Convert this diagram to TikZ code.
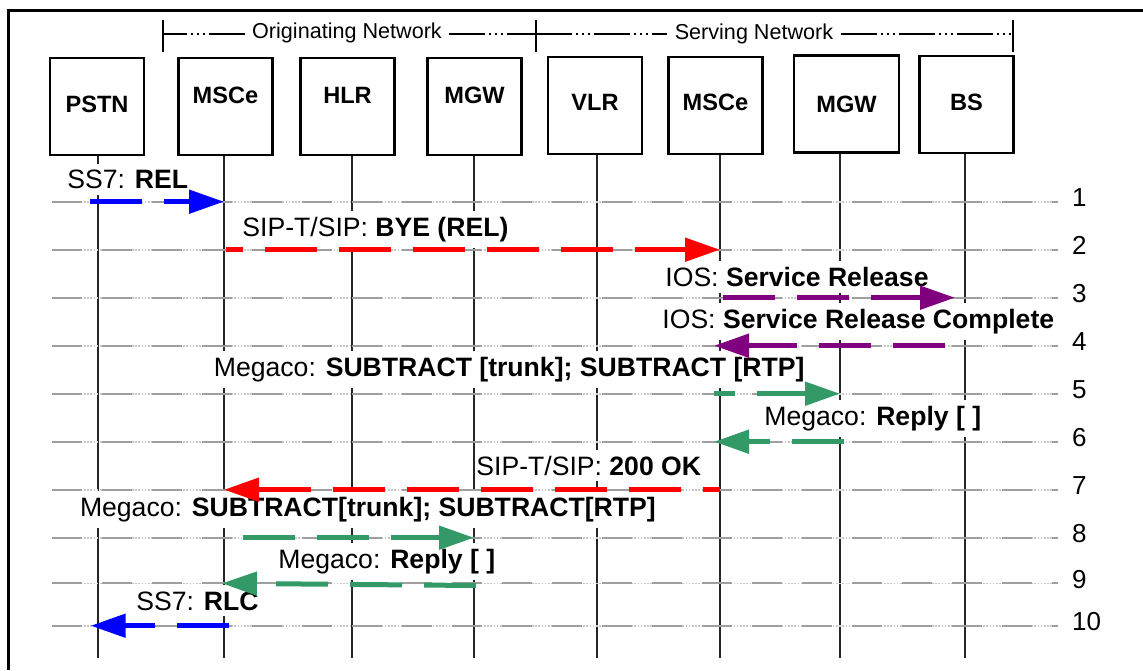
\documentclass[tikz,border=0pt]{standalone}
\usepackage{fontspec}
\setmainfont{Liberation Sans}
\usetikzlibrary{arrows.meta, positioning, calc}
\definecolor{msgBlue}{HTML}{0000FF}
\definecolor{msgRed}{HTML}{FF0000}
\definecolor{msgPurple}{HTML}{800080}
\definecolor{msgGreen}{HTML}{339966}
\tikzset{
  entity/.style={draw, line width=1.1pt, minimum width=47pt, minimum height=48.5pt,
                 inner sep=0pt, font=\fontsize{11.8}{14}\selectfont\bfseries},
  lifeline/.style={draw=black!85, line width=0.6pt},
  rowline/.style={draw=gray!75, line width=1pt, dash pattern=on 15pt off 10pt,
                  preaction={draw=gray!45, line width=0.8pt, dash pattern=on 0.8pt off 0.8pt}},
  msglabel/.style={anchor=base west, fill=white, inner xsep=0pt, inner ysep=3pt,
                   font=\fontsize{13.3}{16}\selectfont},
  msg/.style={draw=#1, line width=2.5pt, dash pattern=on 26pt off 11pt,
              -{Triangle[length=17.5pt, width=11.5pt]}},
  rownum/.style={anchor=base west, inner sep=0pt, font=\fontsize{13}{15}\selectfont},
  netlabel/.style={anchor=base, inner xsep=3.5pt, inner ysep=0pt, font=\fontsize{10.8}{13}\selectfont},
  netbracket/.style={line width=0.6pt, dash pattern=on 18pt off 2pt on 1pt off 2pt on 1pt off 2pt on 1pt off 2pt},
  nettick/.style={line width=1pt},
}
\begin{document}
\begin{tikzpicture}[x=0.5pt, y=-0.5pt]
\useasboundingbox (0,0) rectangle (1143,670);
% frame
\draw[line width=1.5pt] (8.3,670) -- (8.3,10.5) -- (1143,10.5);

% network brackets
\node[netlabel] (orignet) at (347,38.5) {Originating Network};
\node[netlabel] (servnet) at (754,39.3) {Serving Network};
\coordinate (br0) at (163,34);
\coordinate (br1) at (536,34);
\coordinate (br2) at (1013,34);
\foreach \c in {br0,br1,br2}
  \draw[nettick] ($(\c)+(0,-14)$) -- ($(\c)+(0,18)$);
\draw[netbracket, dash phase=6pt] (br0) -- (orignet.west |- br0);
\draw[netbracket] (orignet.east |- br0) -- (br1);
\draw[netbracket] (br1) -- (servnet.west |- br1);
\draw[netbracket] (servnet.east |- br1) -- (br2);

% entities
\node[entity, text depth=2.5pt] (pstn) at (97,106.5) {PSTN};
\node[entity, text depth=11.5pt] (msce) at (225.5,106.5) {MSCe};
\node[entity, text depth=11.5pt] (hlr) at (347.5,106.5) {HLR};
\node[entity, text depth=11.5pt] (mgw) at (474.5,106.5) {MGW};
\node[entity, text depth=3.3pt] (vlr) at (595,105.3) {VLR};
\node[entity, text depth=3.3pt] (mscs) at (715.5,105.3) {MSCe};
\node[entity, minimum width=52.5pt] (mgws) at (846.5,104) {MGW};
\node[entity, text depth=2.5pt] (bs) at (966.5,104.5) {BS};

% lifelines
\foreach \n/\x in {pstn/98, msce/224, hlr/352, mgw/474, vlr/597, mscs/720, mgws/840, bs/965}
  \coordinate (\n-end) at (\x,658);
\foreach \n in {pstn,msce,hlr,mgw,vlr,mscs,mgws,bs}
  \draw[lifeline] (\n-end |- \n.south) -- (\n-end);

% message labels
\node[msglabel] (rel) at (67,188.3) {SS7: \textbf{REL}};
\node[msglabel] (bye) at (242,236) {SIP-T/SIP: \textbf{BYE (REL)}};
\node[msglabel] (srvrel) at (665,286.7) {IOS: \textbf{Service Release}};
\node[msglabel] (srvrelc) at (662,328.3) {IOS: \textbf{Service Release Complete}};
\node[msglabel] (subs) at (213.5,376.7) {Megaco: \textbf{SUBTRACT [trunk]; SUBTRACT [RTP]}};
\node[msglabel] (reps) at (764,425) {Megaco: \textbf{Reply [ ]}};
\node[msglabel] (ok) at (476,475) {SIP-T/SIP: \textbf{200 OK}};
\node[msglabel] (subo) at (79.6,516.7) {Megaco: \textbf{SUBTRACT[trunk]; SUBTRACT[RTP]}};
\node[msglabel] (repo) at (278,568.3) {Megaco: \textbf{Reply [ ]}};
\node[msglabel] (rlc) at (136,610) {SS7: \textbf{RLC}};

% rows
\foreach \i/\y in {1/201.7, 2/249.7, 3/297.7, 4/345.7, 5/393.7, 6/441.7, 7/489.7, 8/537.7, 9/583.3, 10/625.7} {
  \coordinate (r\i) at (52,\y);
  \draw[rowline] (r\i) -- (1058,\y);
  \node[rownum] (num\i) at (1071.7,\y+5) {\i};
}

% messages
\draw[msg=msgBlue] ($(pstn-end |- r1)+(-8,0)$) -- (msce-end |- r1);
\draw[msg=msgRed, dash phase=17.5pt] ($(msce-end |- r2)+(2,0)$) -- (mscs-end |- r2);
\draw[msg=msgPurple] ($(mscs-end |- r3)+(2.5,0)$) -- ($(bs-end |- r3)+(-10,0)$);
\draw[msg=msgPurple] ($(bs-end |- r4)+(-20,0)$) -- ($(mscs-end |- r4)+(-6,0)$);
\draw[msg=msgGreen, dash phase=15.5pt] ($(mscs-end |- r5)+(-6.5,0)$) -- (mgws-end |- r5);
\draw[msg=msgGreen] ($(mgws-end |- r6)+(4,0)$) -- ($(mscs-end |- r6)+(-6,0)$);
\draw[msg=msgRed, dash phase=17.5pt] (mscs-end |- r7) -- (msce-end |- r7);
\draw[msg=msgGreen] ($(msce-end |- r8)+(18.6,0)$) -- (mgw-end |- r8);
\draw[msg=msgGreen] ($(mgw-end |- r9)+(2,2.2)$) -- ($(msce-end |- r9)+(-2,0)$);
\draw[msg=msgBlue] ($(msce-end |- r10)+(4.5,0)$) -- ($(pstn-end |- r10)+(-7.3,0)$);
\end{tikzpicture}
\end{document}
